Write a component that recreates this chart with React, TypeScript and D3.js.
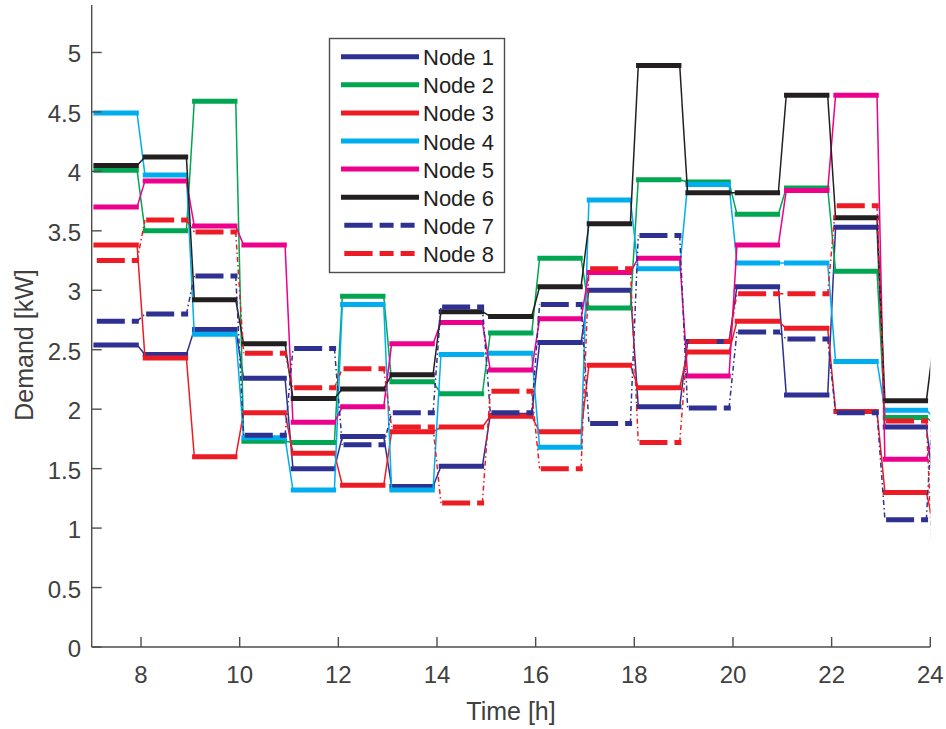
import React from "react";
import * as d3 from "d3";

const hours = [7, 8, 9, 10, 11, 12, 13, 14, 15, 16, 17, 18, 19, 20, 21, 22, 23];
const node1 = [2.54, 2.46, 2.67, 2.26, 1.50, 1.77, 1.35, 1.52, 1.95, 2.56, 3.00, 2.02, 2.57, 3.03, 2.12, 3.53, 1.85];
const node2 = [4.01, 3.50, 4.59, 1.73, 1.72, 2.95, 2.23, 2.13, 2.64, 3.27, 2.85, 3.93, 3.91, 3.64, 3.86, 3.16, 1.93];
const node3 = [3.38, 2.43, 1.60, 1.97, 1.63, 1.36, 1.81, 1.85, 1.94, 1.81, 2.37, 2.18, 2.48, 2.74, 2.68, 1.98, 1.30];
const node4 = [4.49, 3.97, 2.63, 1.76, 1.32, 2.88, 1.32, 2.46, 2.47, 1.68, 3.76, 3.18, 3.89, 3.23, 3.23, 2.40, 1.99];
const node5 = [3.70, 3.92, 3.54, 3.38, 1.89, 2.02, 2.55, 2.73, 2.33, 2.76, 3.15, 3.27, 2.28, 3.38, 3.84, 4.64, 1.58];
const node6 = [4.05, 4.12, 2.92, 2.55, 2.09, 2.17, 2.29, 2.82, 2.78, 3.03, 3.56, 4.89, 3.82, 3.82, 4.64, 3.61, 2.07];
const node7 = [2.74, 2.80, 3.12, 1.78, 2.51, 1.70, 1.97, 2.86, 1.97, 2.88, 1.88, 3.46, 2.01, 2.65, 2.59, 1.97, 1.07];
const node8 = [3.25, 3.59, 3.49, 2.47, 2.18, 2.34, 1.85, 1.21, 2.15, 1.50, 3.18, 1.72, 2.57, 2.97, 2.97, 3.71, 1.90];
// values at hour 24 (only the start of the connector is visible)
const next24 = [1.31, 1.88, 1.0, 1.93, 1.80, 2.60, 2.29, 0.4];

const names = ["Node 1", "Node 2", "Node 3", "Node 4", "Node 5", "Node 6", "Node 7", "Node 8"];
const colors = ["#2e3192", "#00a651", "#ed1c24", "#00aeef", "#ec008c", "#231f20", "#2e3192", "#ed1c24"];
const dashed = [false, false, false, false, false, false, true, true];
const series = [node1, node2, node3, node4, node5, node6, node7, node8];

const xTicks = [8, 10, 12, 14, 16, 18, 20, 22, 24];
const yTicks = [0, 0.5, 1, 1.5, 2, 2.5, 3, 3.5, 4, 4.5, 5];

const W = 946;
const H = 729;
const x = d3.scaleLinear().domain([7, 24]).range([91.7, 930.3]);
const y = d3.scaleLinear().domain([0, 5.4]).range([647, 4.9]);

const FONT = "'Liberation Sans', Arial, Helvetica, sans-serif";
const AX = "#4d4d4d";
const TXT = "#404040";

export default function App() {
  const line = d3.line<[number, number]>().x((d) => x(d[0])).y((d) => y(d[1]));
  return (
    <svg width={W} height={H} style={{ position: "absolute", left: 0, top: 0, background: "#fff" }}>
      <defs>
        <clipPath id="plot">
          <rect x={x(7)} y={y(5.4)} width={x(24) - x(7)} height={y(0) - y(5.4)} />
        </clipPath>
      </defs>
      <rect x={0} y={0} width={W} height={H} fill="#fff" />
      <g clipPath="url(#plot)">
        {series.map((vals, si) => {
          const full = [...vals, next24[si]];
          return (
            <g key={si}>
              {hours.map((h, i) => (
                <path
                  key={"c" + i}
                  d={line([
                    [h + 0.92, full[i]],
                    [h + 1.08, full[i + 1]],
                  ]) as string}
                  stroke={colors[si]}
                  strokeWidth={1.5}
                  strokeDasharray={dashed[si] ? "5 3 1.5 3" : undefined}
                  fill="none"
                />
              ))}
              {hours.map((h, i) => (
                <path
                  key={"s" + i}
                  d={line([
                    [h + 0.035, vals[i]],
                    [h + 0.955, vals[i]],
                  ]) as string}
                  stroke={colors[si]}
                  strokeWidth={5}
                  strokeDasharray={dashed[si] ? "28 7" : undefined}
                  strokeDashoffset={dashed[si] ? 31.6 : undefined}
                  fill="none"
                />
              ))}
            </g>
          );
        })}
      </g>
      {/* axes */}
      <line x1={x(7)} x2={x(24)} y1={y(0)} y2={y(0)} stroke={AX} strokeWidth={1.4} />
      <line x1={x(7)} x2={x(7)} y1={y(0)} y2={y(5.4)} stroke={AX} strokeWidth={1.4} />
      {xTicks.map((t) => (
        <g key={"xt" + t}>
          <line x1={x(t)} x2={x(t)} y1={y(0)} y2={y(0) - 10} stroke={AX} strokeWidth={1.4} />
          <text x={x(t)} y={683} textAnchor="middle" fontFamily={FONT} fontSize={24} fill={TXT}>
            {t}
          </text>
        </g>
      ))}
      {yTicks.map((t) => (
        <g key={"yt" + t}>
          <line x1={x(7)} x2={x(7) + 10} y1={y(t)} y2={y(t)} stroke={AX} strokeWidth={1.4} />
          <text x={81} y={y(t) + 10} textAnchor="end" fontFamily={FONT} fontSize={24} fill={TXT}>
            {t}
          </text>
        </g>
      ))}
      <text x={(x(7) + x(24)) / 2} y={720} textAnchor="middle" fontFamily={FONT} fontSize={25} fill={TXT}>
        Time [h]
      </text>
      <text
        transform={`translate(33, 345) rotate(-90)`}
        textAnchor="middle"
        fontFamily={FONT}
        fontSize={25}
        fill={TXT}
      >
        Demand [kW]
      </text>
      {/* legend */}
      <rect x={329.5} y={38.5} width={175} height={234} fill="#fff" stroke={AX} strokeWidth={1.4} />
      {names.map((n, i) => {
        const cy = 56.7 + i * 28.1;
        return (
          <g key={"lg" + i}>
            {dashed[i] ? (
              <line x1={344.3} x2={415} y1={cy} y2={cy} stroke={colors[i]} strokeWidth={5} strokeDasharray="28.3 7 14 7 14" />
            ) : (
              <line x1={341} x2={419} y1={cy} y2={cy} stroke={colors[i]} strokeWidth={5} />
            )}
            <text x={423} y={cy + 8.5} fontFamily={FONT} fontSize={22} fill="#231f20">
              {n}
            </text>
          </g>
        );
      })}
    </svg>
  );
}
